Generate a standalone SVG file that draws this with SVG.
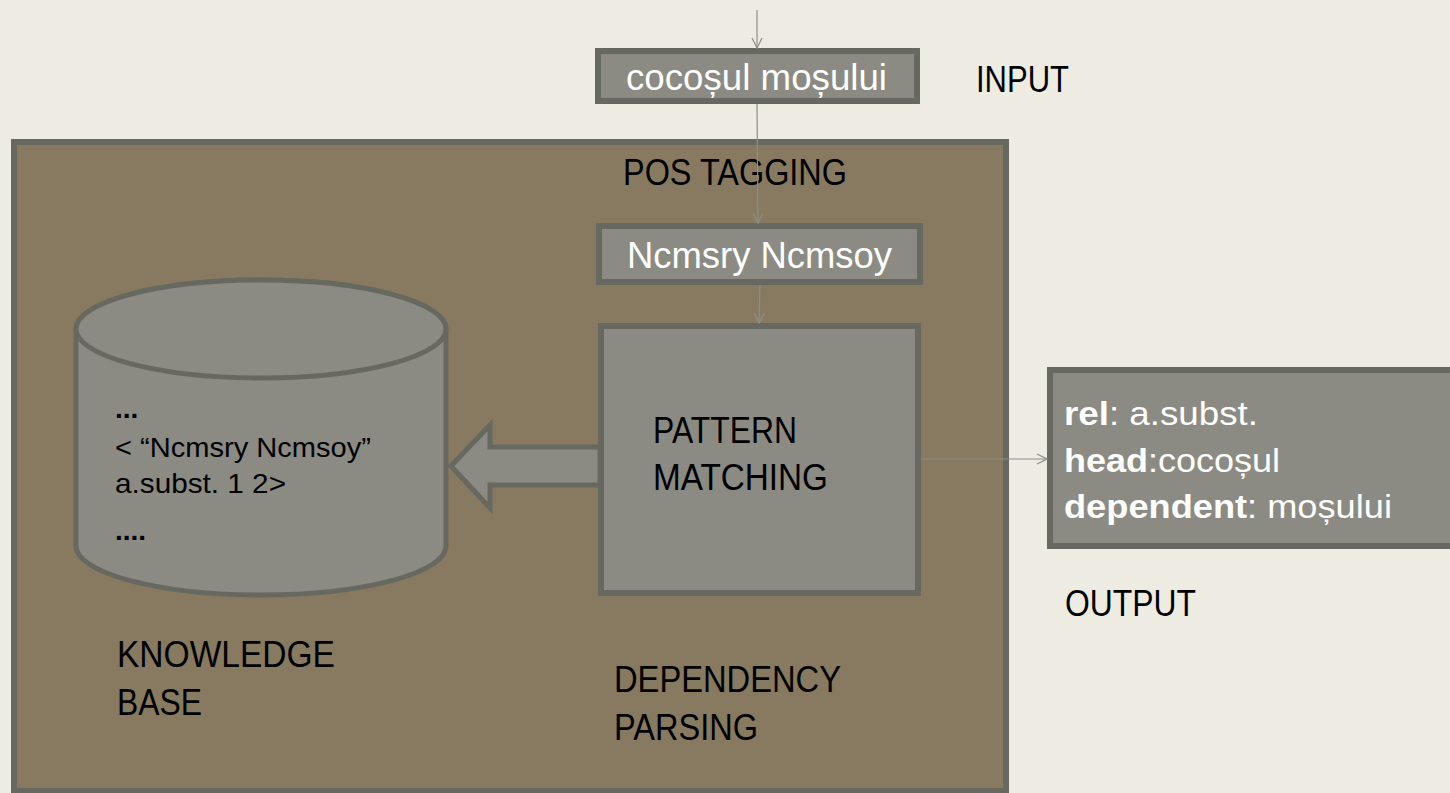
<svg xmlns="http://www.w3.org/2000/svg" width="1450" height="793" viewBox="0 0 1450 793">
<defs>
<style>
.node{fill:#8b8b84;stroke:#676961;stroke-width:6}
.lbl{font-family:"Liberation Sans",Arial,sans-serif;font-size:36px;fill:#000}
.wt{font-family:"Liberation Sans",Arial,sans-serif;fill:#fff}
.kb{font-family:"Liberation Sans",Arial,sans-serif;font-size:28px;fill:#000}
.conn{stroke:#8e8e87;stroke-width:1.2;fill:none}
</style>
<marker id="ah" viewBox="0 0 12 12" refX="11" refY="6" markerWidth="12" markerHeight="12" markerUnits="userSpaceOnUse" orient="auto">
<path d="M1,1 L11,6 L1,11" fill="none" stroke="#8e8e87" stroke-width="1.2"/>
</marker>
</defs>
<rect width="1450" height="793" fill="#eeebe3"/>
<g id="dependency-parsing">
<rect x="14" y="142" width="992" height="649" fill="#877a60" stroke="#676961" stroke-width="6"/>
<text class="lbl" x="614" y="692" textLength="227" lengthAdjust="spacingAndGlyphs">DEPENDENCY</text>
<text class="lbl" x="614" y="740" textLength="144" lengthAdjust="spacingAndGlyphs">PARSING</text>
<text class="lbl" x="623" y="185" textLength="224" lengthAdjust="spacingAndGlyphs">POS TAGGING</text>
</g>
<g id="knowledge-base">
<path d="M76,329 L76,546 A185,49 0 0 0 446,546 L446,329 A185,49 0 0 0 76,329 Z" fill="#8b8b84" stroke="#676961" stroke-width="5"/>
<ellipse cx="261" cy="329" rx="185" ry="49" fill="#8b8b84" stroke="#676961" stroke-width="5"/>
<text class="kb" x="115" y="418" font-weight="bold">...</text>
<text class="kb" x="115" y="457" textLength="256" lengthAdjust="spacingAndGlyphs">&lt; “Ncmsry Ncmsoy”</text>
<text class="kb" x="115" y="493" textLength="171" lengthAdjust="spacingAndGlyphs">a.subst. 1 2&gt;</text>
<text class="kb" x="115" y="540" font-weight="bold">....</text>
<text class="lbl" x="117" y="667" textLength="218" lengthAdjust="spacingAndGlyphs">KNOWLEDGE</text>
<text class="lbl" x="117" y="715" textLength="85" lengthAdjust="spacingAndGlyphs">BASE</text>
</g>
<g id="lookup-arrow">
<polygon points="451,466 490,425 490,447 600,447 600,485 490,485 490,508" fill="#8b8b84" stroke="#676961" stroke-width="5" stroke-linejoin="miter"/>
</g>
<g id="pattern-matching">
<rect class="node" x="601" y="326" width="317" height="267"/>
<text class="lbl" x="653" y="443" textLength="144" lengthAdjust="spacingAndGlyphs">PATTERN</text>
<text class="lbl" x="653" y="490" textLength="175" lengthAdjust="spacingAndGlyphs">MATCHING</text>
</g>
<g id="input">
<rect class="node" x="598" y="51" width="319" height="50"/>
<text class="wt" x="626" y="90" font-size="36" textLength="261" lengthAdjust="spacingAndGlyphs">cocoșul moșului</text>
<text class="lbl" x="976" y="92" textLength="93" lengthAdjust="spacingAndGlyphs">INPUT</text>
</g>
<g id="pos-tags">
<rect class="node" x="599" y="226" width="321" height="56"/>
<text class="wt" x="627" y="268" font-size="36" textLength="265" lengthAdjust="spacingAndGlyphs">Ncmsry Ncmsoy</text>
</g>
<g id="output">
<rect class="node" x="1050" y="370" width="420" height="176"/>
<text class="wt" x="1064" y="425" font-size="34" textLength="194" lengthAdjust="spacingAndGlyphs"><tspan font-weight="bold">rel</tspan>: a.subst.</text>
<text class="wt" x="1064" y="472" font-size="34" textLength="216" lengthAdjust="spacingAndGlyphs"><tspan font-weight="bold">head</tspan>:cocoșul</text>
<text class="wt" x="1064" y="518" font-size="34" textLength="328" lengthAdjust="spacingAndGlyphs"><tspan font-weight="bold">dependent</tspan>: moșului</text>
<text class="lbl" x="1065" y="616" textLength="131" lengthAdjust="spacingAndGlyphs">OUTPUT</text>
</g>
<g id="connectors">
<line class="conn" x1="757" y1="10" x2="757" y2="48" marker-end="url(#ah)"/>
<line class="conn" x1="757" y1="104" x2="758" y2="223" marker-end="url(#ah)"/>
<line class="conn" x1="760" y1="285" x2="759" y2="323" marker-end="url(#ah)"/>
<line class="conn" x1="921" y1="459" x2="1047" y2="459" marker-end="url(#ah)"/>
</g>
</svg>
